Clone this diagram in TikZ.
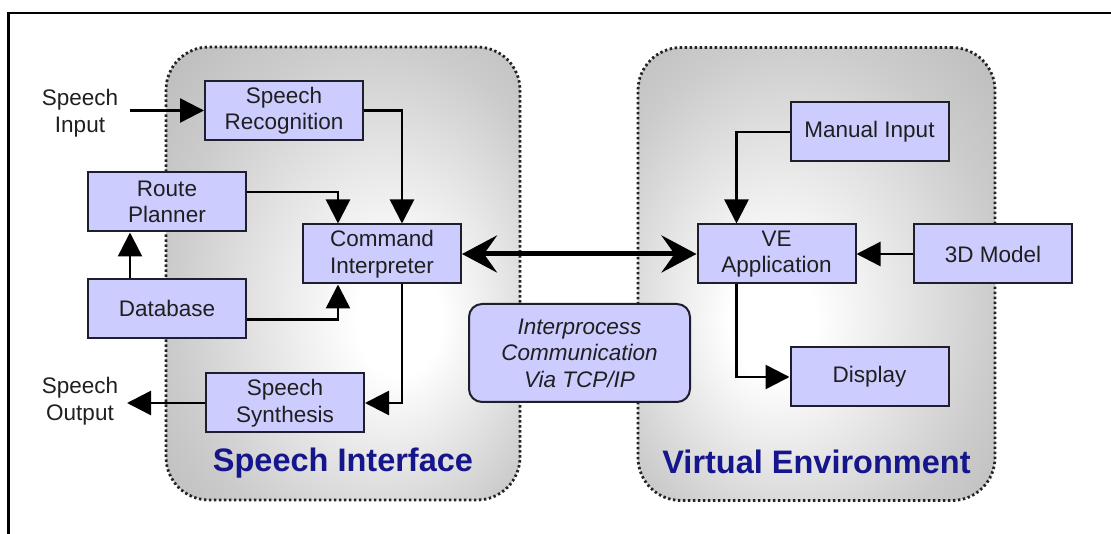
\documentclass[tikz,border=0pt]{standalone}
\usepackage{fontspec}
\setmainfont{Liberation Sans}
\usetikzlibrary{arrows.meta,calc}
\definecolor{boxfill}{RGB}{204,204,255}
\definecolor{boxline}{RGB}{30,30,45}
\definecolor{titleblue}{RGB}{22,22,140}
\definecolor{dotline}{RGB}{35,35,35}
% soft glow inside the two subsystem panels
\pgfdeclareradialshading{leftglow}{\pgfpoint{9bp}{-6bp}}{color(0bp)=(white); color(6bp)=(white); color(28bp)=(black!20); color(42bp)=(black!29); color(50bp)=(black!31)}
\pgfdeclareradialshading{rightglow}{\pgfpoint{-7bp}{-6bp}}{color(0bp)=(white); color(6bp)=(white); color(28bp)=(black!20); color(42bp)=(black!29); color(50bp)=(black!31)}
\begin{document}
\begin{tikzpicture}[x=1pt,y=1pt,
  every node/.style={font=\fontsize{22.5}{26.5}\selectfont, text=black!88, align=center},
  block/.style={draw=boxline, line width=2pt, fill=boxfill, minimum width=158pt, minimum height=59pt, inner sep=0pt},
  ipcbox/.style={block, rounded corners=13pt, minimum width=221pt, minimum height=98pt, font=\fontsize{22.5}{26.5}\selectfont\itshape},
  panel/.style={draw=dotline, line width=2.8pt, dash pattern=on 2.4pt off 2.6pt, rounded corners=43pt, minimum height=453pt, inner sep=0pt},
  paneltitle/.style={font=\fontsize{32.5}{36}\selectfont\bfseries, text=titleblue},
  iotext/.style={inner sep=0pt},
  link/.style={line width=2.5pt, -{Triangle[length=24pt,width=24pt]}},
  duplex/.style={line width=5pt, {Stealth[length=35pt,width=37pt,inset=13pt]}-{Stealth[length=35pt,width=37pt,inset=13pt]}}
]
\useasboundingbox (0,0) rectangle (1111,533);

% page frame (top and left edges)
\draw[line width=2.4pt] (1116,520) -- (8.6,520) -- (8.6,-4);

% subsystem panels
\node[panel, shading=leftglow, minimum width=354pt] (spi) at (343,259.5) {};
\node[panel, shading=rightglow, minimum width=357pt] (ven) at (816.5,259) {};
\node[paneltitle] (spiT) at (343,70) {Speech Interface};
\node[paneltitle] (venT) at (816.5,71) {Virtual Environment};

% speech interface blocks
\node[block] (sr) at (284,422.5) {Speech\\Recognition};
\node[block] (rp) at (167,331) {Route\\Planner};
\node[block] (ci) at (382,279) {Command\\Interpreter};
\node[block] (db) at (167,224.5) {Database};
\node[block] (ss) at (285,130) {Speech\\Synthesis};

% virtual environment blocks
\node[block] (mi) at (869.5,401) {Manual Input};
\node[block] (ve) at (776.5,279) {VE\\Application};
\node[block] (md) at (993,279) {3D Model};
\node[block] (dp) at (869.5,156) {Display};

% link between the two processes
\node[ipcbox] (ipc) at (579.5,180) {Interprocess\\Communication\\Via TCP/IP};

% external speech input and output
\node[iotext] (sin) at (80,420) {Speech\\Input};
\node[iotext] (sout) at (80,132) {Speech\\Output};
\coordinate (inpt) at (130,422.5);
\coordinate (outpt) at (127,130);

% connectors
\draw[link] (inpt) -- (sr.west);
\draw[link] (sr.east) -| ([xshift=20pt]ci.north);
\draw[link] ([yshift=10pt]rp.east) -| ([xshift=-44pt]ci.north);
\draw[link] ([yshift=-11pt]db.east) -| ([xshift=-44pt]ci.south);
\draw[link] ([xshift=-37pt]db.north) -- ([xshift=-37pt]rp.south);
\draw[link] ([xshift=20pt]ci.south) |- (ss.east);
\draw[link] (ss.west) -- (outpt);
\draw[duplex] (ci.east) -- (ve.west);
\draw[link] (mi.west) -| ([xshift=-40pt]ve.north);
\draw[link] (md.west) -- (ve.east);
\draw[link] ([xshift=-40pt]ve.south) |- (dp.west);
\end{tikzpicture}
\end{document}
